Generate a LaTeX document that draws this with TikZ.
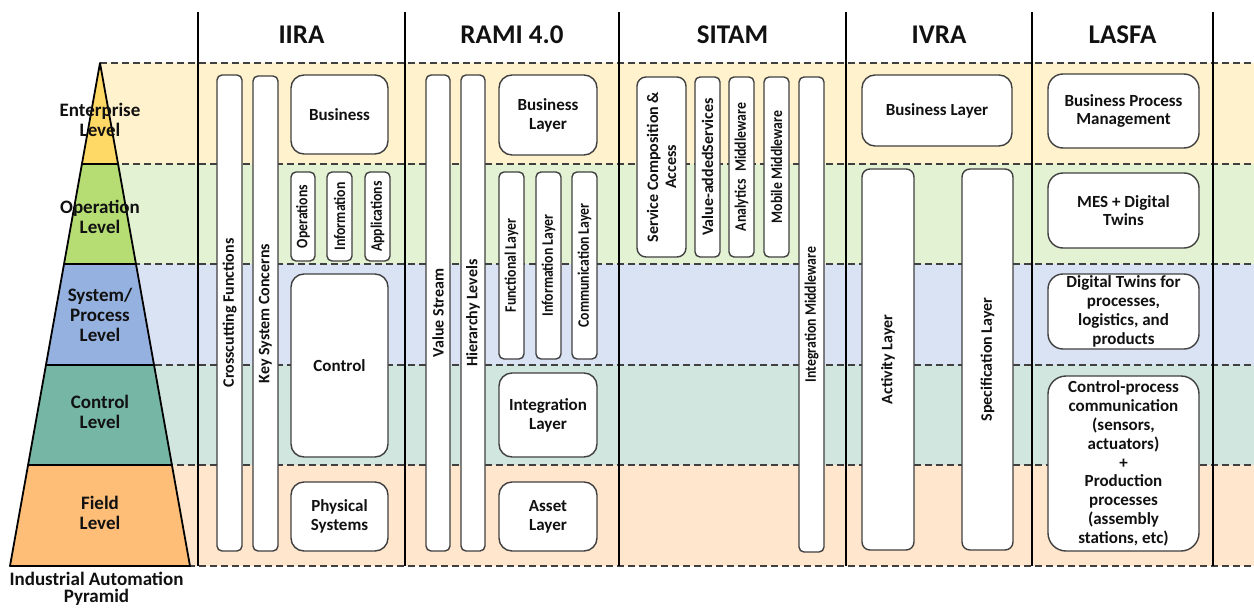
\documentclass[tikz,border=0pt]{standalone}
\usepackage{fontspec}
\setmainfont{Carlito}
\usepackage{graphicx}

% level band tints
\definecolor{bandE}{HTML}{FFF2CC}
\definecolor{bandO}{HTML}{E4F2D4}
\definecolor{bandS}{HTML}{DAE3F3}
\definecolor{bandC}{HTML}{D0E6DE}
\definecolor{bandF}{HTML}{FFE6CC}
% pyramid level fills
\definecolor{pyrE}{HTML}{FFD966}
\definecolor{pyrO}{HTML}{B5DD74}
\definecolor{pyrS}{HTML}{95B1E0}
\definecolor{pyrC}{HTML}{76B6A5}
\definecolor{pyrF}{HTML}{FFBE78}
\definecolor{edge}{HTML}{404040}
\definecolor{ink}{HTML}{111111}

\newcommand\fhead{\fontsize{27}{30}\selectfont\bfseries}
\newcommand\fpyr{\fontsize{19}{20}\selectfont\bfseries}
\newcommand\fcap{\fontsize{19}{17.5}\selectfont\bfseries}
\newcommand\fblk{\fontsize{17}{18.8}\selectfont\bfseries}
\newcommand\fvrt{\fontsize{16}{18}\selectfont\bfseries}
\newcommand\tightx[1]{\scalebox{0.86}[1]{#1}}

% horizontal block: [opts]{name}{x1}{y1}{x2}{y2}{text}
\newcommand\hblock[7][]{\node[block,minimum width={(#5-#3)*1pt},minimum height={(#6-#4)*1pt},#1] (#2) at ({(#3+#5)/2},{(#4+#6)/2}) {#7};}
% vertical block with text reading upwards
\newcommand\vblock[7][]{\node[tallbox,minimum width={(#6-#4)*1pt},minimum height={(#5-#3)*1pt},#1] (#2) at ({(#3+#5)/2},{(#4+#6)/2}) {#7};}

\begin{document}
\begin{tikzpicture}[x=1pt,y=-1pt,
  levelsep/.style={draw=edge,line width=1.3pt,dash pattern=on 7pt off 4pt},
  colrule/.style={draw=black,line width=2pt},
  colhead/.style={font=\fhead,text=ink},
  lvl/.style={font=\fpyr,align=center,text=ink},
  block/.style={draw=edge,fill=white,line width=1.4pt,rounded corners=13pt,inner sep=0pt,align=center,font=\fblk,text=ink},
  tallbox/.style={draw=edge,fill=white,line width=1.4pt,rounded corners=5pt,inner sep=0pt,align=center,font=\fvrt,text=ink,rotate=90},
]
\useasboundingbox (0,0) rectangle (1254,608);
\fill[white] (0,0) rectangle (1254,608);

% level bands
\fill[bandE] (100,63) rectangle (1254,164);
\fill[bandO] (100,164) rectangle (1254,264);
\fill[bandS] (100,264) rectangle (1254,365);
\fill[bandC] (100,365) rectangle (1254,465);
\fill[bandF] (100,465) rectangle (1254,566);
\foreach \y in {63,164,264,365,465,566} \draw[levelsep] (100,\y) -- (1254,\y);

% column rules
\foreach \x in {198,405,619,846,1032,1213} \draw[colrule] (\x,12) -- (\x,566);

% column headings
\node[colhead] (hIIRA) at (301.5,35) {IIRA};
\node[colhead] (hRAMI) at (512,35) {RAMI 4.0};
\node[colhead] (hSITAM) at (732.5,35) {SITAM};
\node[colhead] (hIVRA) at (939,35) {IVRA};
\node[colhead] (hLASFA) at (1122.5,35) {LASFA};

% automation pyramid
\fill[pyrE] (100,63) -- (118.07,164) -- (81.93,164) -- cycle;
\fill[pyrO] (81.93,164) -- (118.07,164) -- (135.96,264) -- (64.04,264) -- cycle;
\fill[pyrS] (64.04,264) -- (135.96,264) -- (154.04,365) -- (45.96,365) -- cycle;
\fill[pyrC] (45.96,365) -- (154.04,365) -- (171.93,465) -- (28.07,465) -- cycle;
\fill[pyrF] (28.07,465) -- (171.93,465) -- (190,566) -- (10,566) -- cycle;
\draw[black,line width=1.8pt,line join=round] (100,63) -- (190,566) -- (10,566) -- cycle;
\draw[black,line width=1.8pt] (81.93,164) -- (118.07,164)
  (64.04,264) -- (135.96,264) (45.96,365) -- (154.04,365) (28.07,465) -- (171.93,465);
\node[lvl] (lvE) at (100,120) {Enterprise\\Level};
\node[lvl] (lvO) at (100,217) {Operation\\Level};
\node[lvl] (lvS) at (100,315) {System/\\Process\\Level};
\node[lvl] (lvC) at (100,412) {Control\\Level};
\node[lvl] (lvF) at (100,513) {Field\\Level};
\node[lvl,font=\fcap,inner sep=0pt] (pyrcap) at (96.5,589) {Industrial Automation\\Pyramid};

% IIRA
\vblock{cross}{217}{75}{242}{551}{Crosscutting Functions}
\vblock{keysys}{253}{76}{278}{551}{Key System Concerns}
\hblock{business}{291}{75}{388}{154}{Business}
\vblock{operations}{291}{172}{315}{261}{\tightx{Operations}}
\vblock{information}{327}{172}{352}{261}{\tightx{Information}}
\vblock{applications}{365}{172}{390}{261}{\tightx{Applications}}
\hblock{control}{291}{274}{388}{457}{Control}
\hblock{physical}{291}{482}{388}{551}{Physical\\Systems}

% RAMI 4.0
\vblock{valuestream}{426}{75}{450}{551}{Value Stream}
\vblock{hierarchy}{461}{75}{485}{551}{Hierarchy Levels}
\hblock{ramibus}{499}{75}{597}{155}{Business\\Layer}
\vblock{functional}{499}{172}{524}{359}{\tightx{Functional Layer}}
\vblock{ramiinfo}{536}{172}{561}{359}{\tightx{Information Layer}}
\vblock{ramicomm}{572}{172}{597}{359}{\tightx{Communication Layer}}
\hblock{integration}{499}{373}{597}{457}{Integration\\Layer}
\hblock{asset}{499}{482}{597}{551}{Asset\\Layer}

% SITAM
\vblock[rounded corners=9pt]{service}{637}{77}{686}{257}{Service Composition \&\\Access}
\vblock{valueadded}{695}{77}{720}{257}{Value-addedServices}
\vblock{analytics}{729}{77}{754}{257}{\tightx{Analytics\hspace{0.3em} Middleware}}
\vblock{mobile}{764}{77}{789}{257}{\tightx{Mobile Middleware}}
\vblock{integmid}{799}{77}{824}{552}{\tightx{Integration Middleware}}

% IVRA
\hblock{ivrabus}{862}{75}{1012}{146}{Business Layer}
\vblock[rounded corners=8pt]{activity}{862}{169}{914}{550}{Activity Layer}
\vblock[rounded corners=8pt]{specification}{962}{169}{1013}{550}{Specification Layer}

% LASFA
\hblock[rounded corners=15pt]{bpm}{1048}{74}{1199}{148}{Business Process\\Management}
\hblock[rounded corners=15pt]{mes}{1048}{173}{1199}{248}{MES + Digital\\Twins}
\hblock[rounded corners=15pt]{dtwins}{1048}{274}{1199}{349}{Digital Twins for\\processes,\\logistics, and\\products}
\hblock[rounded corners=18pt]{cpc}{1048}{376}{1199}{551}{Control-process\\communication\\(sensors,\\actuators)\\+\\Production\\processes\\(assembly\\stations, etc)}
\end{tikzpicture}
\end{document}
